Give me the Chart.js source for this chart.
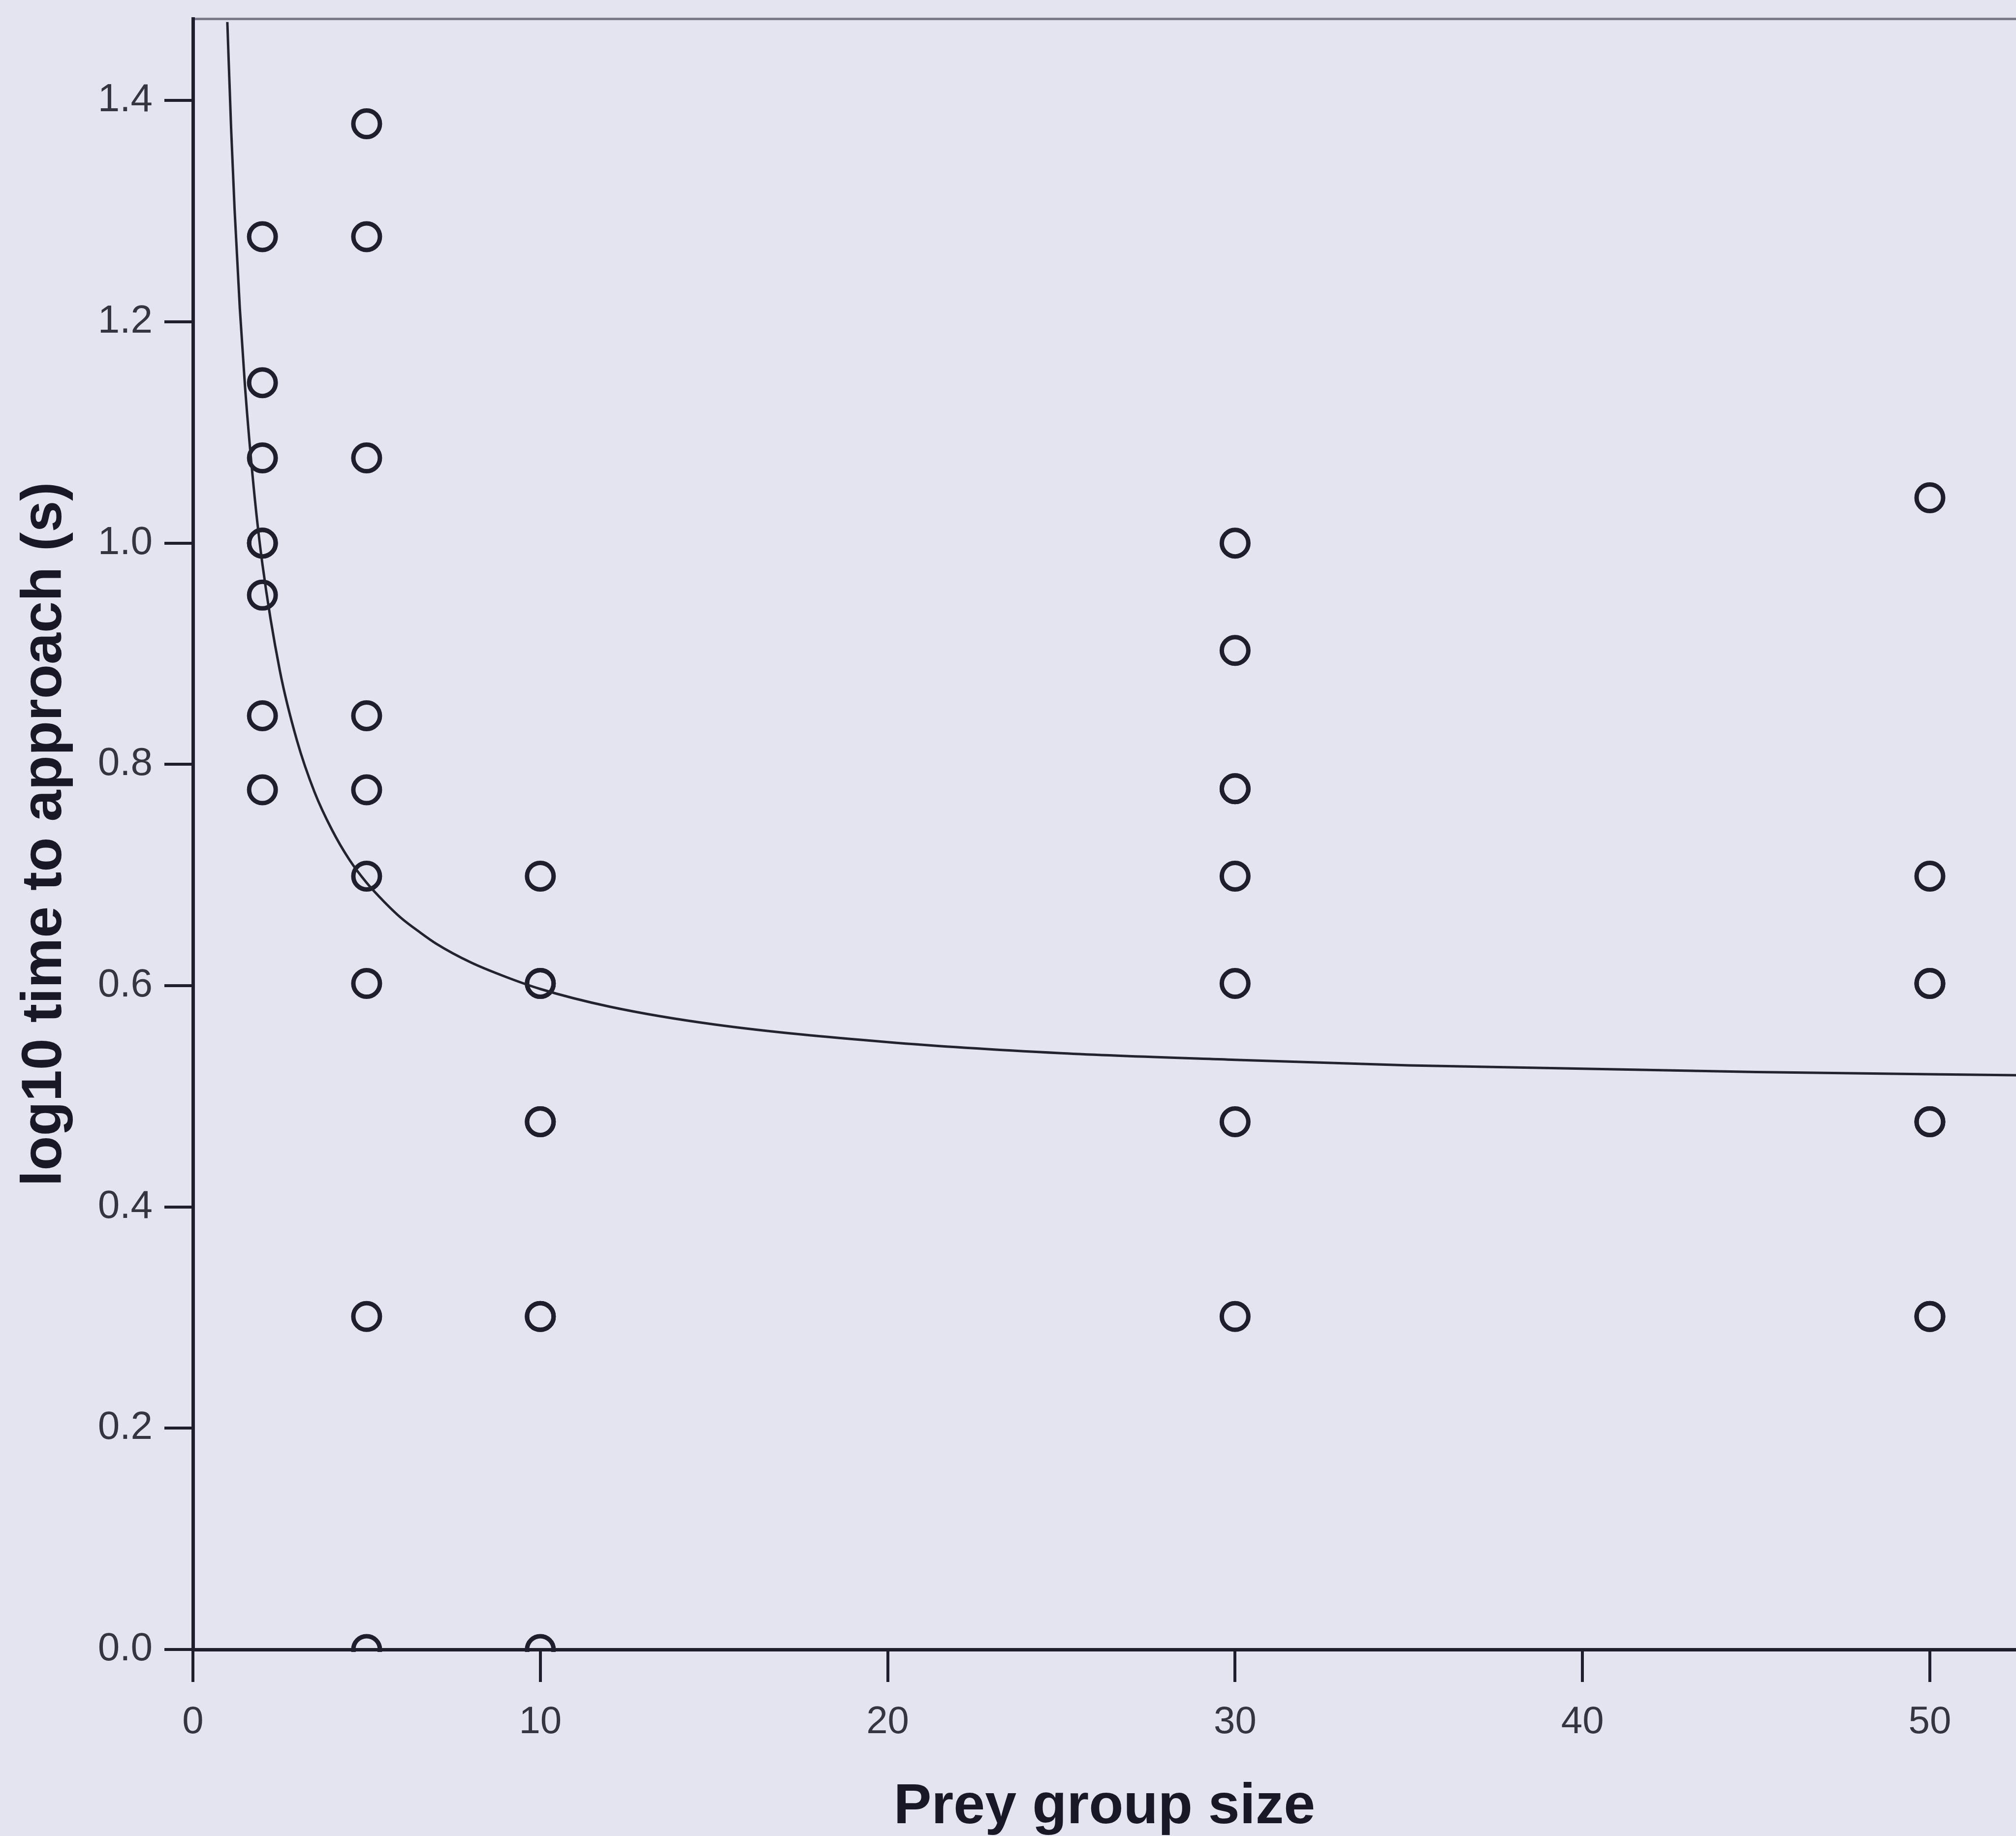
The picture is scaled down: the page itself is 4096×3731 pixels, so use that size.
<!DOCTYPE html>
<html>
<head>
<meta charset="utf-8">
<script src="https://cdn.jsdelivr.net/npm/chart.js@4.4.1/dist/chart.umd.min.js"></script>
<style>
html, body { margin: 0; padding: 0; background: #e4e3f0; overflow: hidden; }
#wrap { position: relative; width: 4096px; height: 3731px; }
</style>
</head>
<body>
<div id="wrap"><canvas id="c"></canvas></div>
<script>
// ---- data ----
const groupSizes = [2, 5, 10, 30, 50];
const timesGroup2  = [1.277, 1.145, 1.077, 1.000, 1.000, 0.953, 0.844, 0.777];
const timesGroup5  = [1.379, 1.277, 1.077, 0.844, 0.777, 0.699, 0.602, 0.301, 0.000];
const timesGroup10 = [0.699, 0.602, 0.602, 0.477, 0.477, 0.301, 0.301, 0.000];
const timesGroup30 = [1.000, 0.903, 0.778, 0.778, 0.699, 0.602, 0.477, 0.301];
const timesGroup50 = [1.041, 0.699, 0.602, 0.602, 0.477, 0.477, 0.301, 0.301];

const curveX = [0.99, 1.1, 1.2, 1.35, 1.5, 1.75, 2.0, 2.5, 3.0, 3.5, 4.0, 4.5, 5.0, 5.5, 6.0, 6.5, 7.0, 8.0, 9.0, 10, 12, 15, 20, 25, 30, 35, 40, 45, 50, 52.5];
const curveY = [1.471, 1.374, 1.301, 1.212, 1.141, 1.050, 0.981, 0.885, 0.821, 0.775, 0.741, 0.714, 0.693, 0.676, 0.661, 0.649, 0.638, 0.621, 0.608, 0.597, 0.581, 0.565, 0.549, 0.539, 0.533, 0.528, 0.525, 0.522, 0.520, 0.519];

const xTickValues = [0, 10, 20, 30, 40, 50];
const xTickLabels = ['0', '10', '20', '30', '40', '50'];
const yTickValues = [0, 0.2, 0.4, 0.6, 0.8, 1.0, 1.2, 1.4];
const yTickLabels = ['0.0', '0.2', '0.4', '0.6', '0.8', '1.0', '1.2', '1.4'];
const xTitle = 'Prey group size';
const yTitle = 'log10 time to approach (s)';

// ---- build library structures ----
const groups = [timesGroup2, timesGroup5, timesGroup10, timesGroup30, timesGroup50];
const points = [];
groups.forEach((arr, i) => arr.forEach(v => points.push({ x: groupSizes[i], y: v })));
const curve = curveX.map((x, i) => ({ x: x, y: curveY[i] }));

const ink = '#1e1e2c';
const FONT = "'Liberation Sans', Arial, sans-serif";
const noPad = s => { s.paddingLeft = 0; s.paddingRight = 0; s.paddingTop = 0; s.paddingBottom = 0; };

new Chart(document.getElementById('c'), {
  type: 'scatter',
  data: {
    datasets: [
      {
        data: curve,
        showLine: true,
        borderColor: '#23232f',
        borderWidth: 5,
        pointRadius: 0,
        pointHoverRadius: 0,
        fill: false,
        cubicInterpolationMode: 'monotone',
        clip: 0
      },
      {
        data: points,
        pointStyle: 'circle',
        pointRadius: 27,
        pointBorderWidth: 9,
        borderColor: ink,
        backgroundColor: 'rgba(0,0,0,0)',
        clip: { left: 60, top: 60, right: 60, bottom: 5 }
      }
    ]
  },
  options: {
    responsive: true,
    maintainAspectRatio: false,
    animation: false,
    events: [],
    layout: { autoPadding: false, padding: { top: 38, left: 0, right: 0, bottom: 0 } },
    plugins: { legend: { display: false }, tooltip: { enabled: false } },
    scales: {
      x: {
        type: 'linear',
        position: 'bottom',
        min: 0,
        max: 52.48,
        afterBuildTicks: s => { s.ticks = xTickValues.map(v => ({ value: v })); },
        afterFit: s => { s.height = 379; noPad(s); },
        ticks: {
          callback: (v, i) => xTickLabels[i],
          font: { family: FONT, size: 78 },
          color: '#35353f',
          padding: 36,
          maxRotation: 0,
          autoSkip: false,
          includeBounds: false
        },
        grid: { drawOnChartArea: false, drawTicks: true, tickLength: 66, tickWidth: 6, tickColor: ink, lineWidth: 6, color: ink },
        border: { display: true, color: ink, width: 7 },
        title: { display: true, text: xTitle, color: '#181826', font: { family: FONT, size: 115, weight: 'bold', lineHeight: 1.0 }, padding: { top: 0, bottom: 0 } }
      },
      xTop: {
        type: 'linear',
        position: 'top',
        min: 0,
        max: 52.48,
        afterFit: s => { s.height = 0; noPad(s); },
        ticks: { display: false },
        grid: { display: false, drawTicks: false },
        border: { display: true, color: '#7a7a8a', width: 5 }
      },
      y: {
        type: 'linear',
        position: 'left',
        min: 0,
        max: 1.474,
        afterBuildTicks: s => { s.ticks = yTickValues.map(v => ({ value: v })); },
        afterFit: s => { s.width = 392; noPad(s); },
        ticks: {
          callback: (v, i) => yTickLabels[i],
          font: { family: FONT, size: 80 },
          color: '#35353f',
          padding: 24,
          autoSkip: false,
          includeBounds: false
        },
        grid: { drawOnChartArea: false, drawTicks: true, tickLength: 58, tickWidth: 6, tickColor: ink, lineWidth: 6, color: ink },
        border: { display: true, color: ink, width: 7 },
        title: { display: true, text: yTitle, color: '#181826', font: { family: FONT, size: 115, weight: 'bold' }, padding: { top: 23, bottom: 0 } }
      }
    }
  }
});
</script>
</body>
</html>
